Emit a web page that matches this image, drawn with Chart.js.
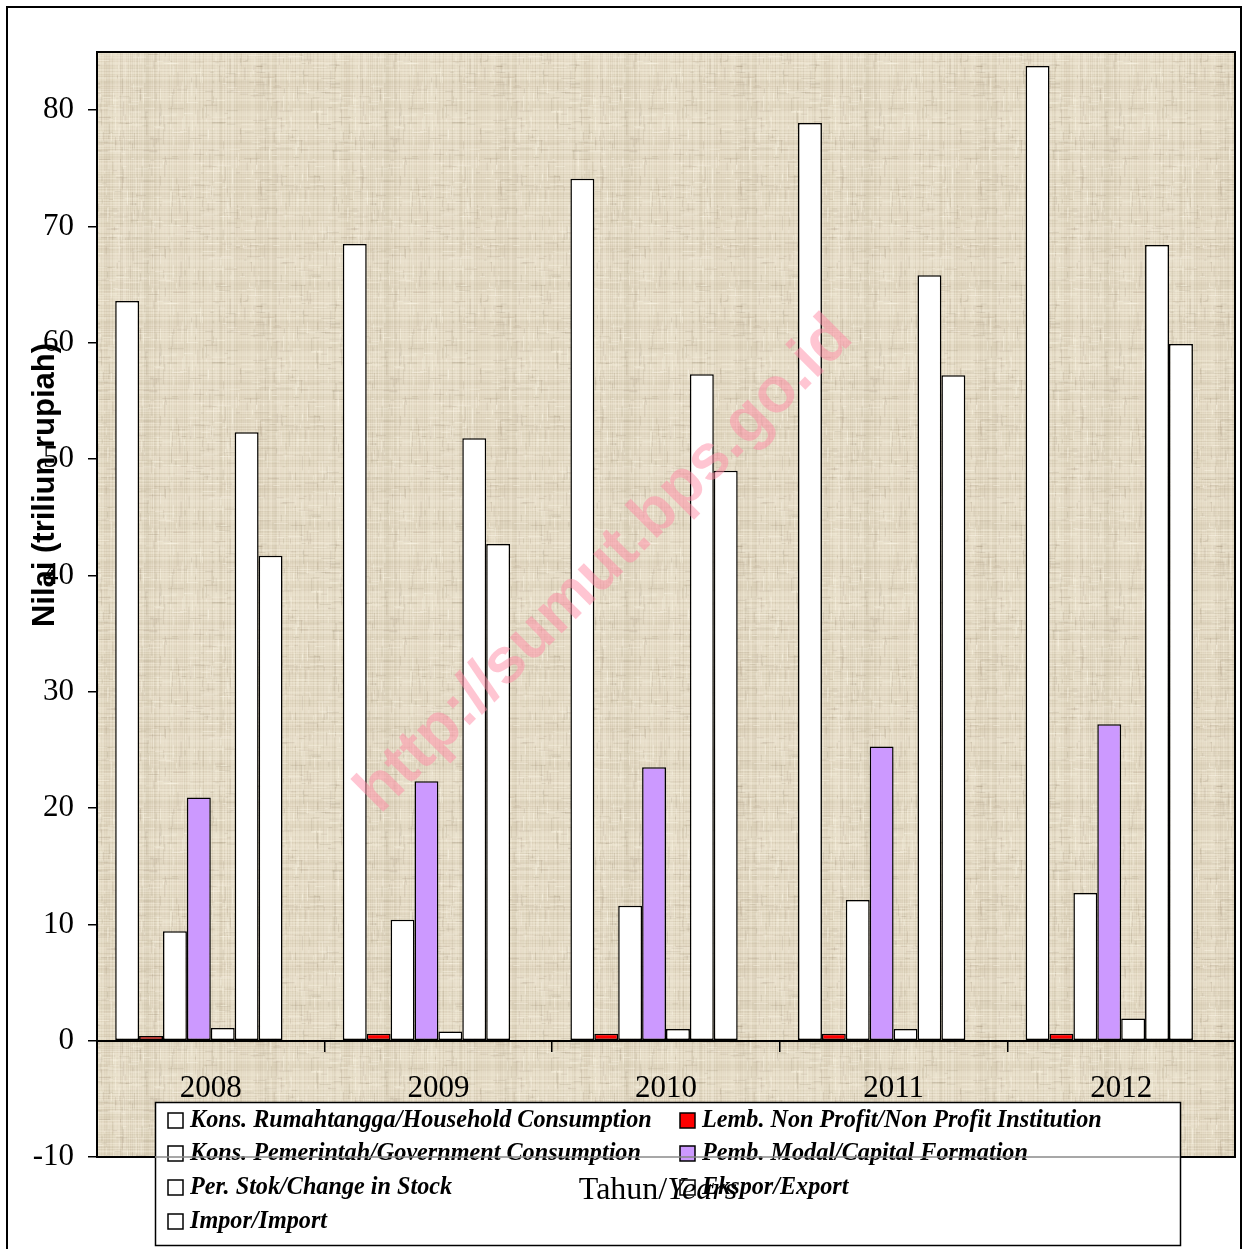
<!DOCTYPE html>
<html><head><meta charset="utf-8">
<script src="https://cdn.jsdelivr.net/npm/chart.js@4.4.0/dist/chart.umd.min.js"></script>
<style>html,body{margin:0;padding:0;background:#fff;}#wrap{width:1243px;height:1249px;}</style>
</head><body><div id="wrap"><canvas id="c" width="1243" height="1249"></canvas></div>
<script>
// ---- data ----
const years = ['2008', '2009', '2010', '2011', '2012'];
const seriesLabels = [
  'Kons. Rumahtangga/Household Consumption',
  'Lemb. Non Profit/Non Profit Institution',
  'Kons. Pemerintah/Government Consumption',
  'Pemb. Modal/Capital Formation',
  'Per. Stok/Change in Stock',
  'Ekspor/Export',
  'Impor/Import'
];
const household  = [63.6, 68.5, 74.1, 78.9, 83.8];
const nonProfit  = [0.4, 0.6, 0.6, 0.6, 0.6];
const government = [9.4, 10.4, 11.6, 12.1, 12.7];
const capital    = [20.9, 22.3, 23.5, 25.3, 27.2];
const stock      = [1.1, 0.8, 1.0, 1.0, 1.9];
const exportVals = [52.3, 51.8, 57.3, 65.8, 68.4];
const importVals = [41.7, 42.7, 49.0, 57.2, 59.9];
const emptySlot  = [null, null, null, null, null];
const yTicks = [-10, 0, 10, 20, 30, 40, 50, 60, 70, 80];
const seriesColors = ['#ffffff', '#ff0000', '#ffffff', '#cc99ff', '#ffffff', '#ffffff', '#ffffff'];
const yTitle = 'Nilai (triliun rupiah)';
const xTitleA = 'Tahun/';
const xTitleB = 'Years';
const watermark = 'http://sumut.bps.go.id';

const seriesValues = [household, nonProfit, government, capital, stock, exportVals, importVals];

function makePattern() {
  const p = document.createElement('canvas');
  p.width = 240; p.height = 240;
  const g = p.getContext('2d');
  g.fillStyle = '#e3d9c3';
  g.fillRect(0, 0, 240, 240);
  let seed = 12345;
  const rnd = () => { seed = (seed * 16807) % 2147483647; return seed / 2147483647; };
  for (let i = 0; i < 240; i++) {
    const r = rnd();
    g.fillStyle = r < 0.55 ? 'rgba(248,242,226,' + (0.35 * rnd()).toFixed(3) + ')' : 'rgba(150,135,105,' + (0.12 * rnd()).toFixed(3) + ')';
    g.fillRect(0, i, 240, 1);
    const r2 = rnd();
    g.fillStyle = r2 < 0.55 ? 'rgba(248,242,226,' + (0.3 * rnd()).toFixed(3) + ')' : 'rgba(150,135,105,' + (0.12 * rnd()).toFixed(3) + ')';
    g.fillRect(i, 0, 1, 240);
  }
  for (let k = 0; k < 900; k++) {
    g.fillStyle = rnd() < 0.5 ? 'rgba(252,247,233,0.4)' : 'rgba(135,120,92,0.16)';
    const x = rnd() * 240, y = rnd() * 240;
    if (rnd() < 0.5) g.fillRect(x, y, 2 + rnd() * 14, 1); else g.fillRect(x, y, 1, 2 + rnd() * 14);
  }
  return p;
}

const serif = '"Liberation Serif", "Times New Roman", serif';

const decor = {
  id: 'decor',
  beforeDraw(chart) {
    const ctx = chart.ctx, a = chart.chartArea;
    ctx.save();
    ctx.fillStyle = '#fff';
    ctx.fillRect(0, 0, chart.width, chart.height);
    ctx.fillStyle = ctx.createPattern(makePattern(), 'repeat');
    ctx.fillRect(a.left, a.top, a.right - a.left, a.bottom - a.top);
    ctx.strokeStyle = '#000';
    ctx.lineWidth = 2;
    ctx.beginPath();
    ctx.moveTo(7, 1252); ctx.lineTo(7, 7); ctx.lineTo(1241, 7); ctx.lineTo(1241, 1252);
    ctx.stroke();
    ctx.restore();
  },
  afterDraw(chart) {
    const ctx = chart.ctx, a = chart.chartArea;
    ctx.save();
    // watermark
    ctx.translate(605, 565);
    ctx.rotate(-Math.PI / 4);
    ctx.font = 'bold 64px "Liberation Sans", Arial, sans-serif';
    ctx.fillStyle = 'rgba(255,140,165,0.5)';
    ctx.textAlign = 'center';
    ctx.textBaseline = 'middle';
    ctx.fillText(watermark, 0, 0);
    ctx.restore();

    ctx.save();
    // plot border
    ctx.strokeStyle = '#000';
    ctx.lineWidth = 2;
    ctx.strokeRect(a.left, a.top, a.right - a.left, a.bottom - a.top);

    // legend
    const lx = 155, ly = 1102, lw = 1025, lh = 143;
    ctx.fillStyle = '#fff';
    ctx.fillRect(lx, ly, lw, lh);
    ctx.lineWidth = 1.5;
    ctx.strokeStyle = '#000';
    ctx.strokeRect(lx + 0.5, ly + 0.5, lw, lh);
    const rowsY = [1121, 1154, 1188, 1222];
    const colX = [168, 680];
    ctx.font = 'italic bold 24.2px ' + serif;
    ctx.textBaseline = 'middle';
    ctx.textAlign = 'left';
    chart.data.datasets.slice(0, 7).forEach((ds, i) => {
      const row = Math.floor(i / 2), col = i % 2;
      const mx = colX[col], my = rowsY[row];
      ctx.fillStyle = ds.backgroundColor;
      ctx.fillRect(mx, my - 8, 15, 15);
      ctx.lineWidth = 1.5;
      ctx.strokeStyle = '#000';
      ctx.strokeRect(mx, my - 8, 15, 15);
      ctx.fillStyle = '#000';
      ctx.fillText(ds.label, mx + 22, my);
    });
    // gray plot bottom line crossing legend
    ctx.strokeStyle = '#8a8a8a';
    ctx.lineWidth = 1.5;
    ctx.beginPath();
    ctx.moveTo(lx, a.bottom); ctx.lineTo(lx + lw, a.bottom);
    ctx.stroke();

    // x title
    ctx.fillStyle = '#000';
    ctx.textBaseline = 'middle';
    ctx.font = '32px ' + serif;
    const wA = ctx.measureText(xTitleA).width;
    ctx.font = 'italic 32px ' + serif;
    const wB = ctx.measureText(xTitleB).width;
    const sx = 658 - (wA + wB) / 2;
    ctx.font = '32px ' + serif;
    ctx.fillText(xTitleA, sx, 1191);
    ctx.font = 'italic 32px ' + serif;
    ctx.fillText(xTitleB, sx + wA, 1191);

    // y title
    ctx.translate(45, 485);
    ctx.rotate(-Math.PI / 2);
    ctx.textAlign = 'center';
    ctx.font = 'bold 31px "Liberation Sans", Arial, sans-serif';
    ctx.fillText(yTitle, 0, 0);
    ctx.restore();
  }
};

const datasets = seriesValues.map((vals, i) => ({
  label: seriesLabels[i],
  data: vals,
  backgroundColor: seriesColors[i],
  borderColor: '#000',
  borderWidth: 1.5,
  borderSkipped: false
}));
datasets.push({ label: '', data: emptySlot, backgroundColor: '#fff', borderWidth: 0 });

new Chart(document.getElementById('c'), {
  type: 'bar',
  data: { labels: years, datasets: datasets },
  options: {
    responsive: false,
    animation: false,
    devicePixelRatio: 1,
    layout: { padding: { left: 0, top: 52, right: 8, bottom: 92 } },
    plugins: { legend: { display: false }, tooltip: { enabled: false } },
    datasets: { bar: { categoryPercentage: 0.84, barPercentage: 1.0 } },
    scales: {
      x: {
        type: 'category',
        position: { y: 0 },
        offset: true,
        grid: { display: true, drawOnChartArea: false, drawTicks: true, tickLength: 10, color: '#000', lineWidth: 1.5, offset: true },
        border: { display: true, color: '#000', width: 2 },
        ticks: { font: { family: serif, size: 31 }, color: '#000', padding: 20, maxRotation: 0 }
      },
      y: {
        min: -10,
        max: 85,
        afterBuildTicks: s => { s.ticks = yTicks.map(v => ({ value: v })); },
        afterFit: s => { s.width = 97; },
        ticks: { font: { family: serif, size: 31 }, color: '#000', padding: 14 },
        grid: { display: true, drawOnChartArea: false, drawTicks: true, tickLength: 9, color: '#000', lineWidth: 1.5 },
        border: { display: true, color: '#000', width: 2 }
      }
    }
  },
  plugins: [decor]
});
</script>
</body></html>
